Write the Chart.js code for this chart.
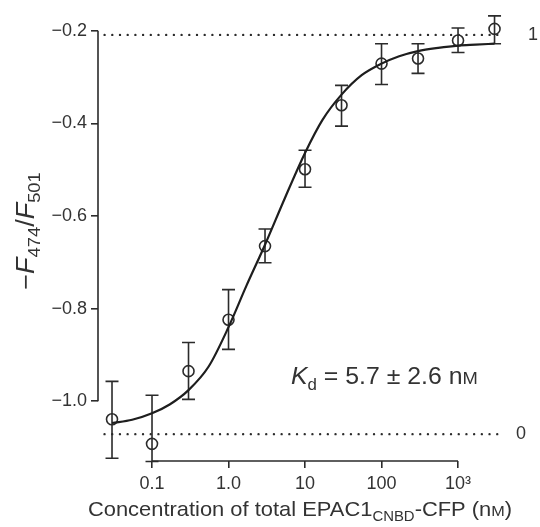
<!DOCTYPE html>
<html>
    <head>
        <title>EPAC1 binding curve</title>
        <script src="https://cdn.jsdelivr.net/npm/chart.js@4.4.1/dist/chart.umd.min.js"></script>
        <style>
            body { margin: 0; background: #fff; }
        </style>
    </head>
    <body>
        <canvas id="chartCanvas" width="540" height="527"></canvas>
        <script type="text/javascript">
            // measured points (concentration in nM, -F474/F501)
            const concentrations = [0.03, 0.1, 0.3, 1, 3, 10, 30, 100, 300, 1000, 3000];
            const ratios = [-1.039, -1.092, -0.935, -0.824, -0.665, -0.499, -0.361, -0.271, -0.260, -0.221, -0.196];
            const errTop = [-0.957, -0.987, -0.873, -0.759, -0.628, -0.458, -0.318, -0.228, -0.228, -0.194, -0.168];
            const errBottom = [-1.123, -1.13, -0.996, -0.888, -0.701, -0.538, -0.406, -0.316, -0.292, -0.247, -0.228];

            // fitted curve
            const fitX = [0.03, 0.055, 0.1, 0.17, 0.3, 0.55, 1, 1.7, 3, 5.5, 10, 17, 30, 55, 100, 170, 300, 550, 1000, 1700, 3000];
            const fitY = [-1.047, -1.040, -1.026, -1.007, -0.976, -0.925, -0.840, -0.752, -0.662, -0.560, -0.464, -0.392, -0.338, -0.296, -0.271, -0.255, -0.244, -0.237, -0.232, -0.230, -0.228];

            // dotted reference levels (1 and 0)
            const refTopX = [0.024, 4000];
            const refTopY = [-0.209, -0.209];
            const refBottomX = [0.019, 4000];
            const refBottomY = [-1.071, -1.071];
            const refLabels = ['1', '0'];

            // axis ticks
            const xTicks = [0.1, 1, 10, 100, 1000];
            const xTickLabels = ['0.1', '1.0', '10', '100', '10\u00B3'];
            const yTicks = [-1.0, -0.8, -0.6, -0.4, -0.2];

            const INK = '#2b2b2b';
            const FONT = '"Liberation Sans", Arial, sans-serif';
            const STRETCH = 1.08; // the original lettering is a bit wider than Liberation Sans

            const toPoints = (xs, ys) => xs.map((x, i) => ({x: x, y: ys[i]}));

            // draws a line of text made of runs: [text, style] where style is '', 'i', 'sub', 'sc'
            const drawRich = (ctx, runs, x, y, size, align) => {
                const pieces = runs.map(r => {
                    const style = r[1] || '';
                    let fs = size;
                    if (style === 'sub') fs = size * 0.68;
                    if (style === 'sc') fs = size * 0.74;
                    const font = (style === 'i' ? 'italic ' : '') + fs + 'px ' + FONT;
                    ctx.font = font;
                    return {text: r[0], font: font, w: ctx.measureText(r[0]).width, dy: style === 'sub' ? size * 0.25 : 0};
                });
                const total = pieces.reduce((s, p) => s + p.w, 0) * STRETCH;
                ctx.save();
                ctx.translate(align === 'center' ? x - total / 2 : x, y);
                ctx.scale(STRETCH, 1);
                ctx.textAlign = 'left';
                ctx.textBaseline = 'alphabetic';
                let cx = 0;
                pieces.forEach(p => {
                    ctx.font = p.font;
                    ctx.fillText(p.text, cx, p.dy);
                    cx += p.w;
                });
                ctx.restore();
            };

            // error bars under the circles
            const errorBars = {
                id: 'errorBars',
                beforeDatasetsDraw(chart) {
                    const ctx = chart.ctx;
                    const xs = chart.scales.x, ys = chart.scales.y;
                    ctx.save();
                    ctx.strokeStyle = INK;
                    ctx.lineWidth = 1.6;
                    concentrations.forEach((c, i) => {
                        const px = xs.getPixelForValue(c);
                        const top = ys.getPixelForValue(errTop[i]);
                        const bot = ys.getPixelForValue(errBottom[i]);
                        ctx.beginPath();
                        ctx.moveTo(px, top); ctx.lineTo(px, bot);
                        ctx.moveTo(px - 6.5, top); ctx.lineTo(px + 6.5, top);
                        ctx.moveTo(px - 6.5, bot); ctx.lineTo(px + 6.5, bot);
                        ctx.stroke();
                    });
                    ctx.restore();
                }
            };

            // range-frame spines, titles and annotations
            const decorations = {
                id: 'decorations',
                afterDraw(chart) {
                    const ctx = chart.ctx;
                    const xs = chart.scales.x, ys = chart.scales.y;
                    const area = chart.chartArea;
                    ctx.save();
                    ctx.strokeStyle = INK;
                    ctx.lineWidth = 1.6;
                    ctx.beginPath();
                    ctx.moveTo(area.left, ys.getPixelForValue(yTicks[yTicks.length - 1]));
                    ctx.lineTo(area.left, ys.getPixelForValue(yTicks[0]));
                    ctx.moveTo(xs.getPixelForValue(xTicks[0]), area.bottom);
                    ctx.lineTo(xs.getPixelForValue(xTicks[xTicks.length - 1]), area.bottom);
                    ctx.stroke();

                    ctx.fillStyle = '#333';
                    // labels of the reference levels
                    ctx.font = '18px ' + FONT;
                    ctx.textBaseline = 'middle';
                    ctx.fillText(refLabels[0], 528, ys.getPixelForValue(refTopY[0]));
                    ctx.fillText(refLabels[1], 516, ys.getPixelForValue(refBottomY[0]));

                    // Kd note
                    drawRich(ctx, [['K', 'i'], ['d', 'sub'], [' = 5.7 \u00B1 2.6 n'], ['M', 'sc']], 291, 384, 23, 'left');

                    // x title
                    drawRich(ctx, [['Concentration of total EPAC1'], ['CNBD', 'sub'], ['-CFP (n'], ['M', 'sc'], [')']], 300, 516, 20.3, 'center');

                    // y title, rotated
                    ctx.translate(34, 231);
                    ctx.rotate(-Math.PI / 2);
                    drawRich(ctx, [['\u2212'], ['F', 'i'], ['474', 'sub'], ['/'], ['F', 'i'], ['501', 'sub']], 0, 0, 25, 'center');
                    ctx.restore();
                }
            };

            const config = {
                type: 'scatter',
                data: {
                    datasets: [
                        {
                            data: toPoints(refTopX, refTopY),
                            showLine: true,
                            borderColor: INK,
                            borderWidth: 2.4,
                            borderDash: [0, 7.7],
                            borderCapStyle: 'round',
                            pointRadius: 0
                        },
                        {
                            data: toPoints(refBottomX, refBottomY),
                            showLine: true,
                            borderColor: INK,
                            borderWidth: 2.4,
                            borderDash: [0, 7.7],
                            borderCapStyle: 'round',
                            pointRadius: 0
                        },
                        {
                            data: toPoints(fitX, fitY),
                            showLine: true,
                            borderColor: '#1e1e1e',
                            borderWidth: 2.2,
                            cubicInterpolationMode: 'monotone',
                            pointRadius: 0
                        },
                        {
                            data: toPoints(concentrations, ratios),
                            showLine: false,
                            pointRadius: 5.5,
                            pointBorderWidth: 1.6,
                            pointBorderColor: INK,
                            pointBackgroundColor: 'rgba(0,0,0,0)'
                        }
                    ]
                },
                options: {
                    responsive: false,
                    animation: false,
                    layout: { padding: { top: 13, right: 35, left: 0, bottom: 0 } },
                    plugins: { legend: { display: false }, tooltip: { enabled: false } },
                    scales: {
                        x: {
                            type: 'logarithmic',
                            min: 0.01968,
                            max: 4111,
                            afterFit: scale => { scale.height = 66; },
                            afterBuildTicks: scale => { scale.ticks = xTicks.map(v => ({value: v})); },
                            border: { display: false },
                            grid: { drawOnChartArea: false, drawTicks: true, tickLength: 7, color: INK, lineWidth: 1.6 },
                            ticks: {
                                color: '#333',
                                padding: 5,
                                maxRotation: 0,
                                autoSkip: false,
                                font: { family: FONT, size: 18 },
                                callback: (v, i) => xTickLabels[i]
                            }
                        },
                        y: {
                            min: -1.129,
                            max: -0.1656,
                            afterFit: scale => { scale.width = 98; },
                            afterBuildTicks: scale => { scale.ticks = yTicks.map(v => ({value: v})); },
                            border: { display: false },
                            grid: { drawOnChartArea: false, drawTicks: true, tickLength: 7, color: INK, lineWidth: 1.6 },
                            ticks: {
                                color: '#333',
                                padding: 4,
                                font: { family: FONT, size: 18 },
                                callback: v => '\u2212' + Math.abs(v).toFixed(1)
                            }
                        }
                    }
                },
                plugins: [errorBars, decorations]
            };

            new Chart(document.getElementById('chartCanvas').getContext('2d'), config);
        </script>
    </body>
</html>
